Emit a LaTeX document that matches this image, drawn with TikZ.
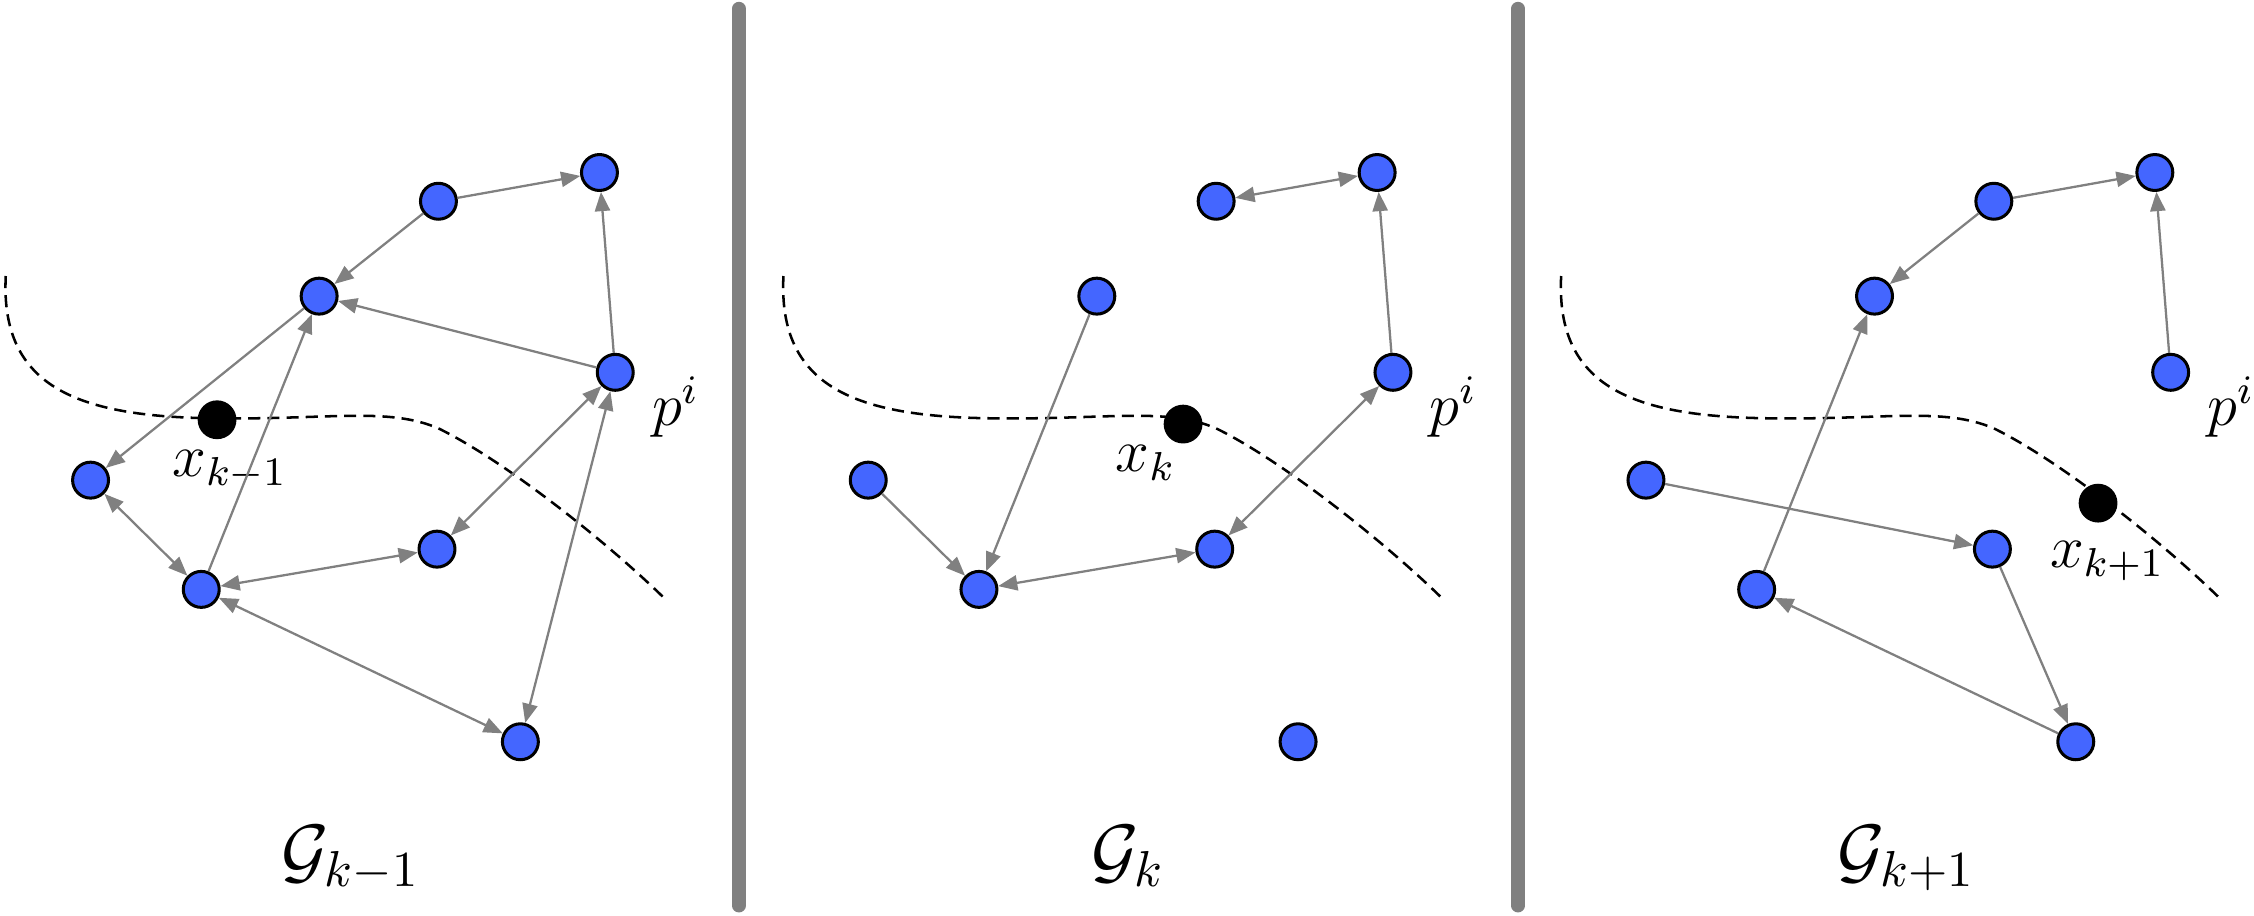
\documentclass[tikz,border=0pt]{standalone}
\usepackage{amsmath}
\usepackage{amssymb}
\usetikzlibrary{arrows.meta}
\definecolor{nodeblue}{RGB}{68,102,255}

\begin{document}
\begin{tikzpicture}[
    pt/.style={circle,draw=black,line width=0.6pt,fill=nodeblue,minimum size=0.25cm,inner sep=0pt},
    robot/.style={circle,fill=black,minimum size=0.27cm,inner sep=0pt},
    edge/.style={gray,line width=0.45pt,-{Triangle[length=3.8pt,width=3pt]}},
    both/.style={gray,line width=0.45pt,{Triangle[length=3.8pt,width=3pt]}-{Triangle[length=3.8pt,width=3pt]}},
    traj/.style={black,line width=0.5pt,dash pattern=on 2.4pt off 1.4pt},
    bar/.style={gray,line width=0.095cm,line cap=round}]
    \useasboundingbox (0,0) rectangle (15.68,6.37);
    \draw[bar] (5.14,0.07) -- (5.14,6.31);
    \draw[bar] (10.56,0.07) -- (10.56,6.31);
    \foreach \p/\s/\rx/\ry/\g in {a/0/1.51/3.45/{k-1},b/5.41/2.82/3.42/{k},c/10.82/3.775/2.87/{k+1}}{
        \begin{scope}[xshift=\s cm]
            \draw[traj] (0.04,4.45) .. controls (0.0,3.67) and (0.55,3.47) .. (1.50,3.46)
                .. controls (2.30,3.45) and (2.70,3.54) .. (3.05,3.39)
                .. controls (3.50,3.17) and (4.20,2.62) .. (4.62,2.21);
            \node[robot] (\p x) at (\rx,\ry) {};
            \node[pt] (\p1) at (3.05,4.97) {};
            \node[pt] (\p2) at (4.17,5.17) {};
            \node[pt] (\p3) at (2.22,4.31) {};
            \node[pt] (\p4) at (4.28,3.78) {};
            \node[pt] (\p5) at (0.63,3.03) {};
            \node[pt] (\p6) at (1.40,2.27) {};
            \node[pt] (\p7) at (3.04,2.55) {};
            \node[pt] (\p8) at (3.62,1.21) {};
            \node at (4.70,3.54) {\large $p^i$};
            \node[anchor=base] (\p g) at (2.44,0.28) {\Large $\mathcal{G}_{\g}$};
        \end{scope}
    }
    \node at (1.60,3.10) {\large $x_{k-1}$};
    \node at (7.97,3.15) {\large $x_k$};
    \node at (14.66,2.47) {\large $x_{k+1}$};

    \draw[edge] (a1) -- (a2);
    \draw[edge] (a1) -- (a3);
    \draw[edge] (a4) -- (a3);
    \draw[edge] (a4) -- (a2);
    \draw[edge] (a3) -- (a5);
    \draw[edge] (a6) -- (a3);
    \draw[both] (a5) -- (a6);
    \draw[both] (a6) -- (a7);
    \draw[both] (a7) -- (a4);
    \draw[both] (a4) -- (a8);
    \draw[both] (a6) -- (a8);

    \draw[both] (b1) -- (b2);
    \draw[edge] (b4) -- (b2);
    \draw[edge] (b3) -- (b6);
    \draw[edge] (b5) -- (b6);
    \draw[both] (b6) -- (b7);
    \draw[both] (b4) -- (b7);

    \draw[edge] (c1) -- (c2);
    \draw[edge] (c1) -- (c3);
    \draw[edge] (c4) -- (c2);
    \draw[edge] (c6) -- (c3);
    \draw[edge] (c5) -- (c7);
    \draw[edge] (c7) -- (c8);
    \draw[edge] (c8) -- (c6);
\end{tikzpicture}
\end{document}
